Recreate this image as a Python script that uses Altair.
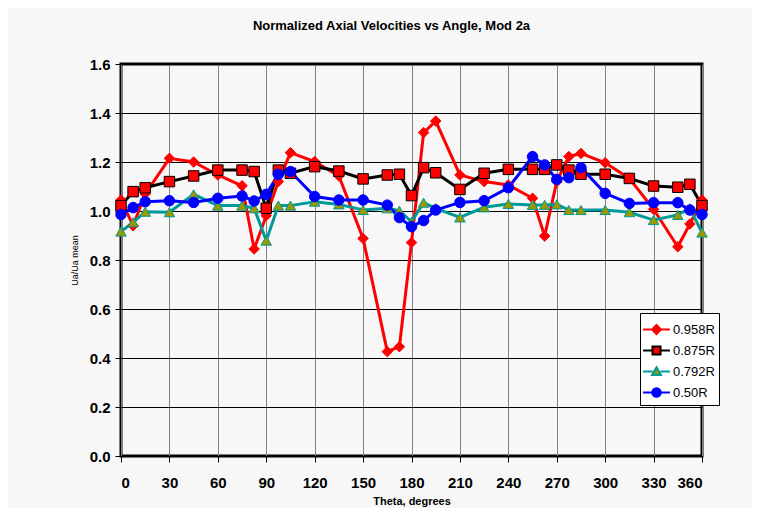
import altair as alt
import pandas as pd

# ---- data ----
series_names = ["0.958R", "0.875R", "0.792R", "0.50R"]
angles = [0, 7.5, 15, 30, 45, 60, 75, 82.5, 90, 97.5, 105, 120, 135, 150, 165, 172.5,
          180, 187.5, 195, 210, 225, 240, 255, 262.5, 270, 277.5, 285, 300, 315, 330,
          345, 352.5, 360]
r958 = [1.045, 0.94, 1.07, 1.215, 1.20, 1.147, 1.103, 0.845, 0.981, 1.12, 1.238, 1.202,
        1.143, 0.888, 0.426, 0.446, 0.871, 1.320, 1.367, 1.147, 1.120, 1.106, 1.052,
        0.898, 1.12, 1.222, 1.235, 1.197, 1.133, 1.007, 0.854, 0.947, 1.045]
r875 = [1.022, 1.079, 1.095, 1.120, 1.143, 1.167, 1.167, 1.161, 1.011, 1.167, 1.154,
        1.181, 1.163, 1.131, 1.147, 1.150, 1.063, 1.177, 1.156, 1.088, 1.154, 1.170,
        1.170, 1.170, 1.188, 1.167, 1.150, 1.150, 1.133, 1.102, 1.097, 1.109, 1.022]
r792 = [0.916, 0.954, 0.997, 0.995, 1.068, 1.022, 1.022, 1.011, 0.879, 1.022, 1.022,
        1.038, 1.027, 1.004, 1.011, 1.001, 0.956, 1.034, 1.011, 0.974, 1.015, 1.029,
        1.025, 1.025, 1.027, 1.004, 1.004, 1.004, 0.995, 0.963, 0.984, 1.011, 0.912]
r50 = [0.986, 1.014, 1.038, 1.042, 1.035, 1.052, 1.061, 1.041, 1.068, 1.150, 1.161,
       1.059, 1.045, 1.045, 1.024, 0.973, 0.936, 0.961, 1.004, 1.035, 1.042, 1.095,
       1.222, 1.188, 1.129, 1.136, 1.177, 1.072, 1.031, 1.034, 1.034, 1.004, 0.986]
x_ticks = list(range(0, 361, 30))
y_ticks = [0.0, 0.2, 0.4, 0.6, 0.8, 1.0, 1.2, 1.4, 1.6]

# ---- styles ----
line_colors = ["#FF0000", "#000000", "#009999", "#0000FF"]
marker_fills = ["#FF0000", "#FF0000", "#999900", "#0000FF"]
marker_shapes = ["diamond", "square", "triangle-up", "circle"]
seg = "M-1.2,0L-0.36,0M0.36,0L1.2,0"
legend_shapes = [
    seg + "M0,-0.4L0.4,0L0,0.4L-0.4,0Z",
    seg + "M-0.36,-0.36L0.36,-0.36L0.36,0.36L-0.36,0.36Z",
    seg + "M0,-0.38L0.4,0.32L-0.4,0.32Z",
    seg + "M0.38,0A0.38,0.38,0,1,1,-0.38,0A0.38,0.38,0,1,1,0.38,0Z",
]

rows = []
for i, (name, vals) in enumerate(zip(series_names, [r958, r875, r792, r50])):
    for a, v in zip(angles, vals):
        rows.append({"theta": a, "value": v, "series": name, "sidx": i})
df = pd.DataFrame(rows)

FONT = "Liberation Sans"

x_enc = alt.X("theta:Q",
              scale=alt.Scale(domain=[0, 360], nice=False, zero=False),
              axis=alt.Axis(values=x_ticks, title="Theta, degrees", format="d",
                            gridColor="#808080"))
y_enc = alt.Y("value:Q",
              scale=alt.Scale(domain=[0, 1.6], nice=False),
              axis=alt.Axis(values=y_ticks, title="Ua/Ua mean", format=".1f",
                            gridColor="#000000"))

stroke_scale = alt.Scale(domain=series_names, range=line_colors)
fill_scale = alt.Scale(domain=series_names, range=marker_fills)

lines = alt.Chart(df).mark_line(strokeWidth=3).encode(
    x=x_enc, y=y_enc,
    stroke=alt.Stroke("series:N", scale=stroke_scale, legend=None),
    detail="series:N",
    order="theta:Q",
)

points = alt.Chart(df).mark_point(filled=True, size=110, opacity=1, strokeWidth=1).encode(
    x=x_enc, y=y_enc,
    shape=alt.Shape("series:N", scale=alt.Scale(domain=series_names, range=marker_shapes), legend=None),
    fill=alt.Fill("series:N", scale=fill_scale, legend=None),
    stroke=alt.Stroke("series:N", scale=stroke_scale, legend=None),
)

leg = alt.Legend(title=None, orient="none", legendX=519, legendY=249,
                 fillColor="white", strokeColor="black", padding=4,
                 symbolSize=500, symbolStrokeWidth=2, labelFont=FONT,
                 labelFontSize=13, labelColor="black", labelOffset=4,
                 rowPadding=-3)

legend_layer = alt.Chart(df).transform_filter("datum.value < -100").mark_point(
    filled=True, opacity=1, strokeWidth=2).encode(
    x=x_enc, y=y_enc,
    shape=alt.Shape("series:N", scale=alt.Scale(domain=series_names, range=legend_shapes), legend=leg),
    fill=alt.Fill("series:N", scale=fill_scale, legend=leg),
    stroke=alt.Stroke("series:N", scale=stroke_scale, legend=leg),
)

chart = alt.layer(lines, points, legend_layer).resolve_scale(
    shape="independent", fill="independent", stroke="independent"
).properties(
    width=581, height=392,
    padding={"left": 113, "top": 56, "right": 50, "bottom": 52},
    autosize=alt.AutoSizeParams(type="none"),
    background="#f7f7f7",
    title=alt.TitleParams("Normalized Axial Velocities vs Angle, Mod 2a",
                          font=FONT, fontSize=13, fontWeight="bold", color="black",
                          anchor="middle", dx=-20, offset=24),
).configure_view(
    stroke="black", strokeWidth=3
).configure_axis(
    labelFont=FONT, labelFontSize=15, labelFontWeight="bold", labelColor="black",
    tickColor="black", tickSize=6, tickWidth=1, domain=False,
    gridWidth=1, gridOpacity=1,
    titleFont=FONT, titleColor="black",
).configure_axisX(
    labelPadding=13, titleFontSize=11, titleFontWeight="bold", titlePadding=5,
).configure_axisY(
    labelPadding=5, titleFontSize=9, titleFontWeight="normal", titlePadding=10,
)

chart.save("out.html", embed_options={"renderer": "svg", "actions": False})
